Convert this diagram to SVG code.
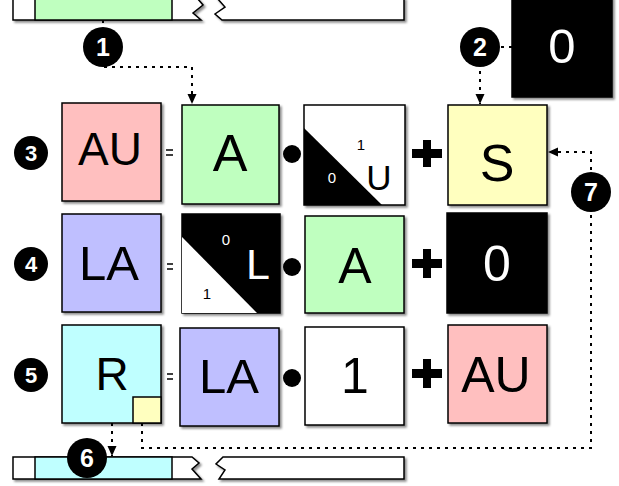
<svg xmlns="http://www.w3.org/2000/svg" width="619" height="486" viewBox="0 0 619 486">
<defs>
<filter id="sh" x="-10%" y="-10%" width="130%" height="130%">
<feDropShadow dx="2" dy="2" stdDeviation="1.2" flood-color="#000" flood-opacity="0.45"/>
</filter>
<marker id="arr" markerWidth="10" markerHeight="10" refX="10" refY="5" orient="auto" markerUnits="userSpaceOnUse">
<path d="M0,0.5 L10,5 L0,9.5 Z" fill="#000"/>
</marker>
</defs>
<style>
.bx{stroke:#000;stroke-width:1.5;filter:url(#sh)}
.lbl{font-family:"Liberation Sans",Arial,sans-serif;text-anchor:middle;fill:#000}
.wl{fill:#fff}
.sm{font-family:"Liberation Sans",Arial,sans-serif;text-anchor:middle;font-size:15px}
.num{font-family:"Liberation Sans",Arial,sans-serif;text-anchor:middle;fill:#fff;font-weight:bold}
.dot{fill:none;stroke:#000;stroke-width:2;stroke-dasharray:3 5}
.pink{fill:#ffbfbf}.green{fill:#bfffbf}.lav{fill:#bfbfff}.yel{fill:#ffffbf}.cyan{fill:#bfffff}.wh{fill:#fff}.blk{fill:#000}
</style>

<g id="topbar">
<path class="bx wh" d="M13,-2 L197,-2 L203,5 L193,13 L201,20 L13,20 Z"/>
<rect x="35" y="-2" width="137" height="22" class="green" stroke="#000" stroke-width="1.5"/>
<path class="bx wh" d="M217,-2 L404,-2 L404,20 L222,20 L215,14 L225,7 Z"/>
</g>

<g id="zero-top">
<rect x="512" y="-3" width="100" height="100" class="bx blk"/>
<text x="562" y="63" class="lbl wl" font-size="49">0</text>
</g>

<g id="connectors">
<path class="dot" d="M103,20 L103,67 L192,67 L192,104" marker-end="url(#arr)"/>
<path class="dot" d="M512,47 L480,47 L480,104" marker-end="url(#arr)"/>
<path class="dot" d="M142,423 L142,448 L591,448 L591,152 L548,152" marker-end="url(#arr)"/>
<path class="dot" d="M112,423 L112,456" marker-end="url(#arr)"/>
</g>

<g id="row1-ops">
<path d="M166,150 H173 M166,155 H173" stroke="#000" stroke-width="1.5"/>
<circle cx="292" cy="154" r="9" fill="#000"/>
<path d="M412,149 H442 V158 H431 V167 H423 V158 H412 Z M423,140 H431 V149 H423 Z" fill="#000"/>
</g>
<g id="row2-ops">
<path d="M167,264 H173 M167,269 H173" stroke="#000" stroke-width="1.5"/>
<circle cx="292" cy="267" r="9" fill="#000"/>
<path d="M412,259 H442 V268 H431 V278 H423 V268 H412 Z M423,249 H431 V259 H423 Z" fill="#000"/>
</g>
<g id="row3-ops">
<path d="M167,374 H173 M167,379 H173" stroke="#000" stroke-width="1.5"/>
<circle cx="292" cy="378" r="9" fill="#000"/>
<path d="M412,369 H442 V378 H431 V388 H423 V378 H412 Z M423,359 H431 V369 H423 Z" fill="#000"/>
</g>

<g id="au1">
<rect x="62" y="103" width="99" height="98" class="bx pink"/>
<text x="110" y="165" class="lbl" font-size="46">AU</text>
</g>
<g id="a1">
<rect x="182" y="105" width="97" height="99" class="bx green"/>
<text x="230" y="171" class="lbl" font-size="52">A</text>
</g>
<g id="u1">
<rect x="304" y="105" width="101" height="100" class="bx wh"/>
<path d="M304,128 L304,205 L382,205 Z" fill="#000"/>
<text x="361" y="150" class="sm">1</text>
<text x="332" y="183" class="sm" fill="#fff">0</text>
<text x="379" y="190" class="lbl" font-size="35">U</text>
</g>
<g id="s1">
<rect x="448" y="105" width="99" height="100" class="bx yel"/>
<text x="497" y="181" class="lbl" font-size="52">S</text>
</g>

<g id="la2">
<rect x="62" y="214" width="99" height="98" class="bx lav"/>
<text x="109" y="280" class="lbl" font-size="49">LA</text>
</g>
<g id="l2">
<rect x="182" y="214" width="98" height="99" class="bx blk"/>
<path d="M182,237 L182,313 L257,313 Z" fill="#fff"/>
<text x="226" y="245" class="sm" fill="#fff" font-size="16">0</text>
<text x="207" y="299" class="sm" font-size="16">1</text>
<text x="258" y="279" class="lbl wl" font-size="43">L</text>
</g>
<g id="a2">
<rect x="305" y="216" width="99" height="97" class="bx green"/>
<text x="355" y="283" class="lbl" font-size="50">A</text>
</g>
<g id="zero2">
<rect x="447" y="213" width="100" height="100" class="bx blk"/>
<text x="497" y="281" class="lbl wl" font-size="50">0</text>
</g>

<g id="r3">
<rect x="62" y="325" width="99" height="98" class="bx cyan"/>
<rect x="133" y="397" width="28" height="26" class="yel" stroke="#000" stroke-width="1.5"/>
<text x="112" y="390" class="lbl" font-size="46">R</text>
</g>
<g id="la3">
<rect x="180" y="328" width="99" height="98" class="bx lav"/>
<text x="229" y="393" class="lbl" font-size="49">LA</text>
</g>
<g id="one3">
<rect x="305" y="327" width="99" height="98" class="bx wh"/>
<text x="355" y="393" class="lbl" font-size="50">1</text>
</g>
<g id="au3">
<rect x="448" y="325" width="99" height="98" class="bx pink"/>
<text x="496" y="392" class="lbl" font-size="50">AU</text>
</g>

<g id="bottombar">
<path class="bx wh" d="M13,457 L192,457 L199,463 L192,469 L201,479 L13,479 Z"/>
<rect x="35" y="457" width="137" height="22" class="cyan" stroke="#000" stroke-width="1.5"/>
<path class="bx wh" d="M223,457 L404,457 L404,479 L219,479 L225,470 L216,464 Z"/>
</g>

<g id="c1"><circle cx="103" cy="47" r="20" fill="#000"/><text x="103" y="56" class="num" font-size="25">1</text></g>
<g id="c2"><circle cx="480" cy="47" r="20" fill="#000"/><text x="480" y="56" class="num" font-size="25">2</text></g>
<g id="c3"><circle cx="31" cy="153" r="17" fill="#000"/><text x="31" y="161" class="num" font-size="22">3</text></g>
<g id="c4"><circle cx="31" cy="264" r="17" fill="#000"/><text x="31" y="272" class="num" font-size="22">4</text></g>
<g id="c5"><circle cx="31" cy="375" r="17" fill="#000"/><text x="31" y="383" class="num" font-size="22">5</text></g>
<g id="c6"><circle cx="87" cy="458" r="20" fill="#000"/><text x="87" y="467" class="num" font-size="25">6</text></g>
<g id="c7"><circle cx="591" cy="192" r="20" fill="#000"/><text x="591" y="201" class="num" font-size="25">7</text></g>
</svg>
